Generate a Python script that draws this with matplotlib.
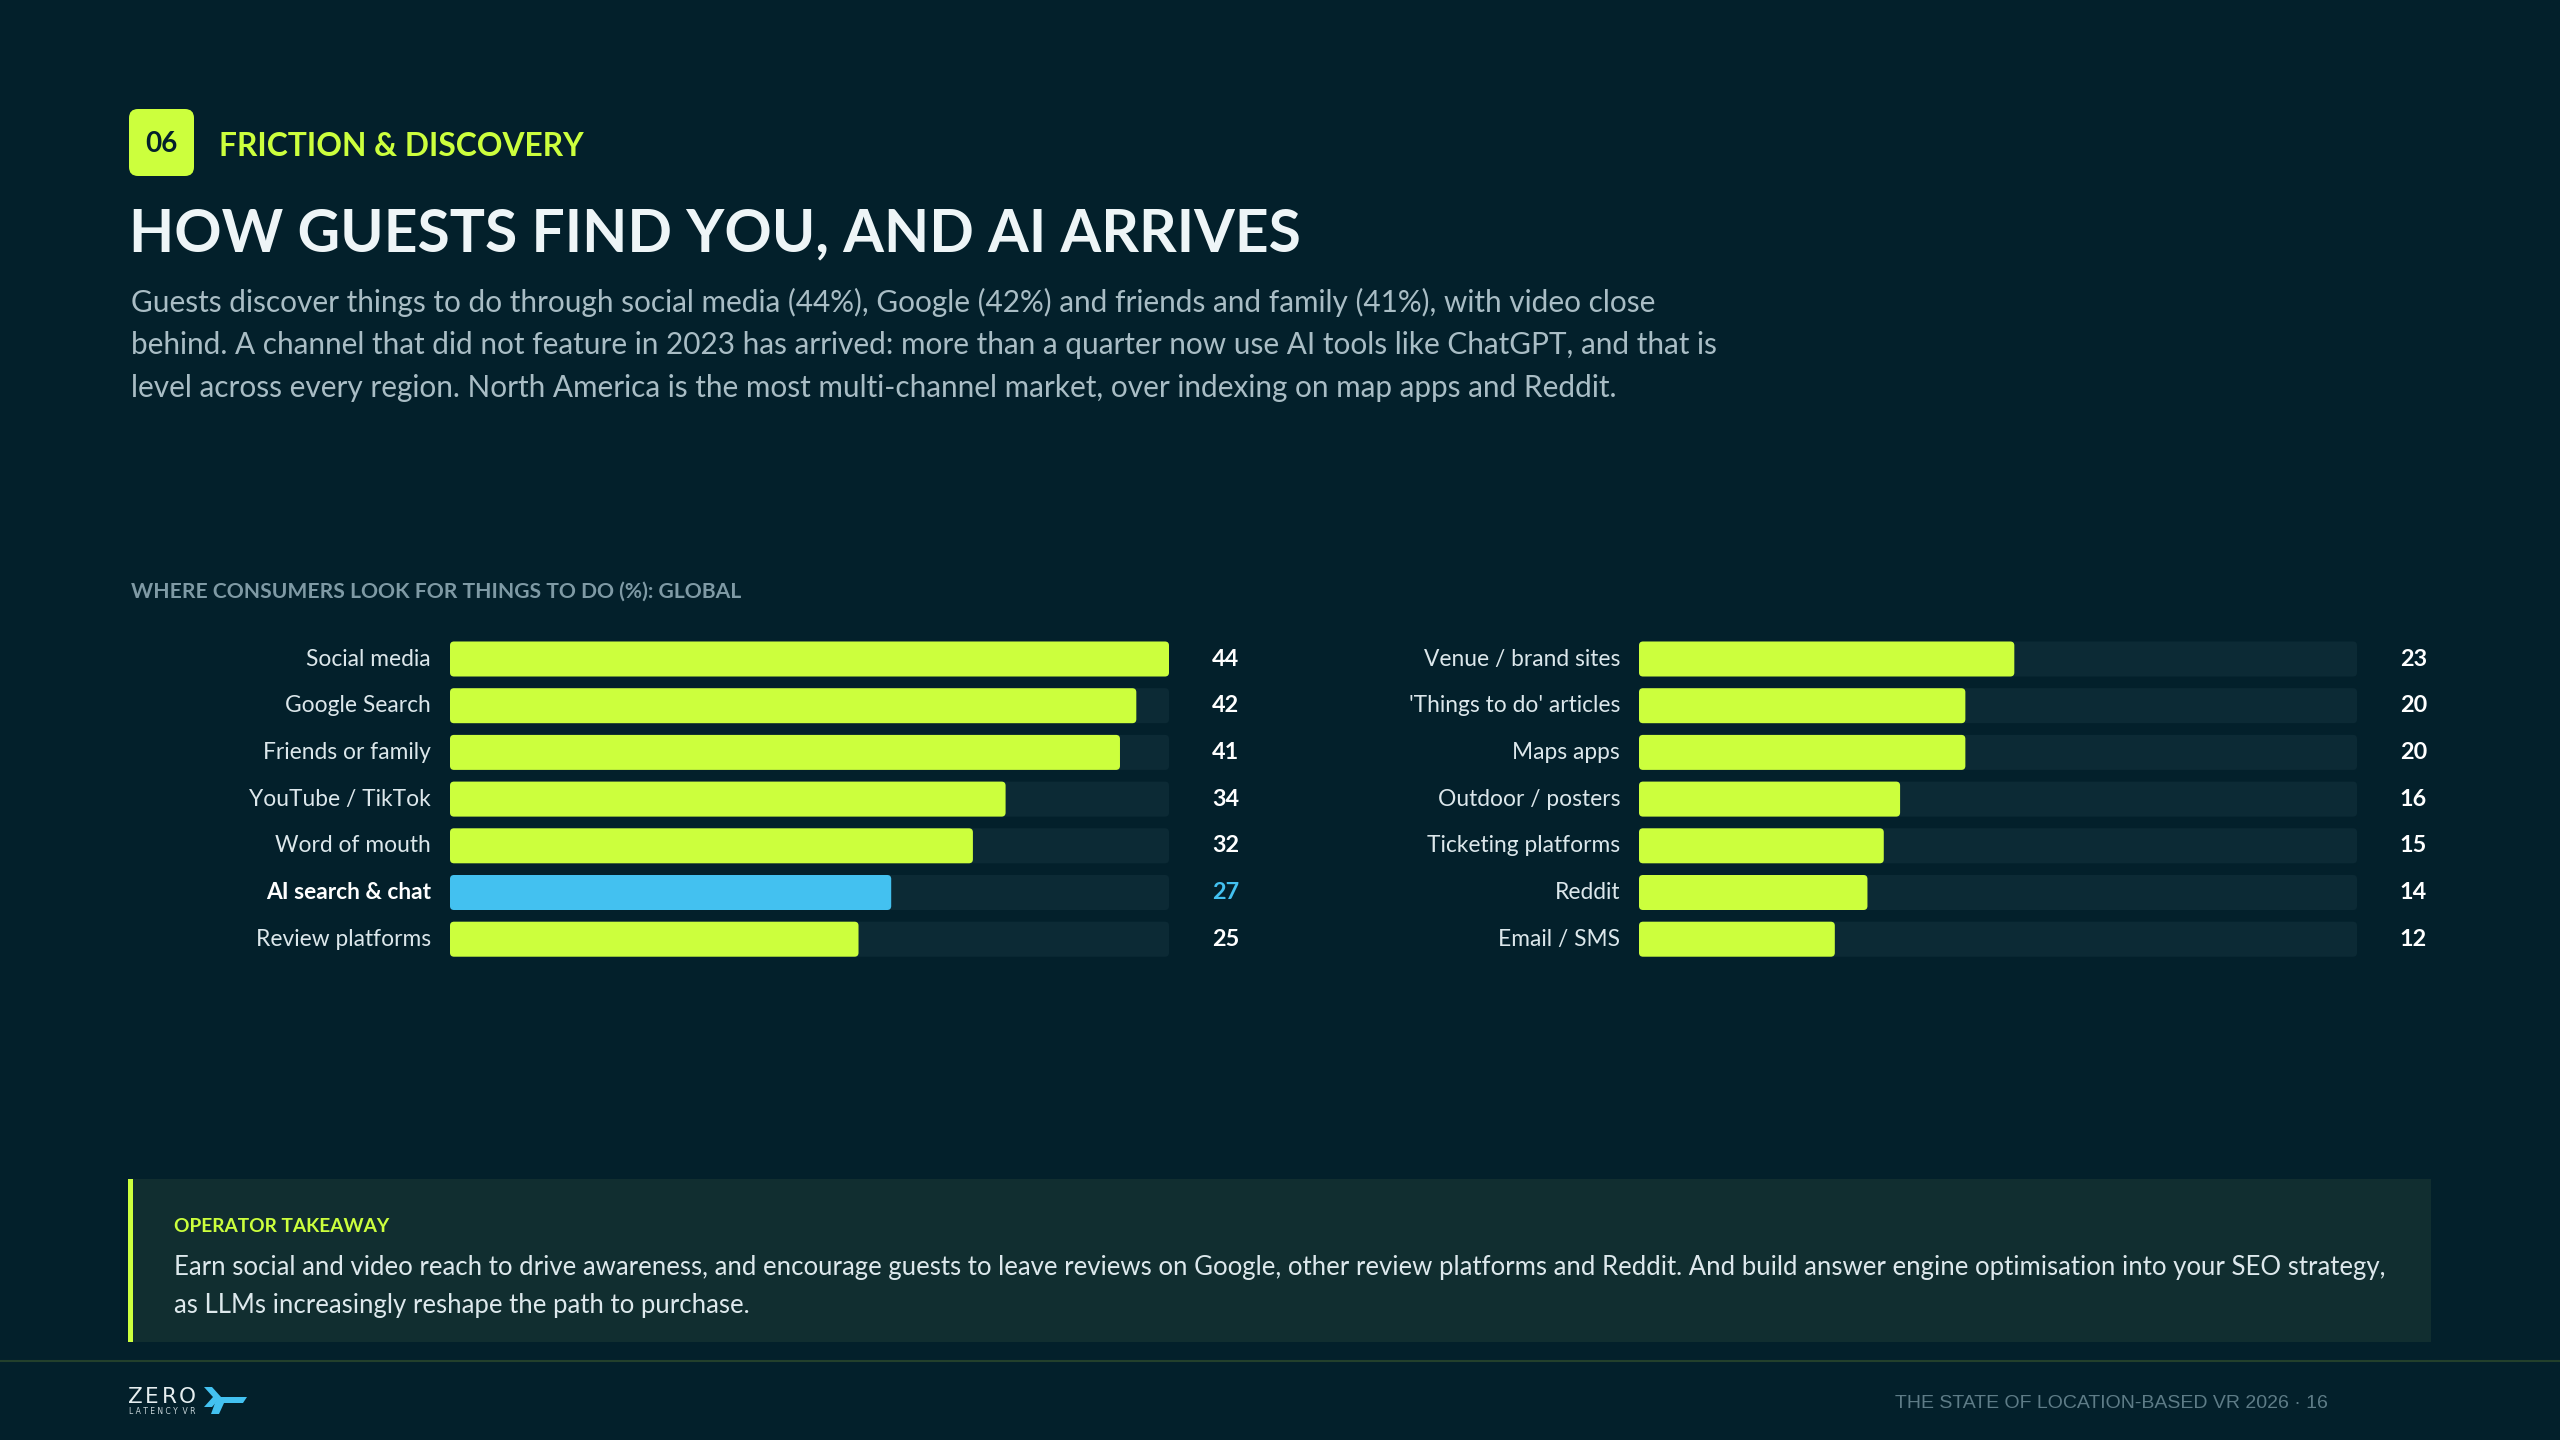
import matplotlib
matplotlib.use("Agg")
import matplotlib.pyplot as plt
from matplotlib.patches import FancyBboxPatch, Rectangle, Polygon

plt.rcParams['font.family'] = ['Lato', 'DejaVu Sans']

# data
left_labels = ["Social media", "Google Search", "Friends or family", "YouTube / TikTok",
               "Word of mouth", "AI search & chat", "Review platforms"]
left_values = [44, 42, 41, 34, 32, 27, 25]
right_labels = ["Venue / brand sites", "'Things to do' articles", "Maps apps", "Outdoor / posters",
                "Ticketing platforms", "Reddit", "Email / SMS"]
right_values = [23, 20, 20, 16, 15, 14, 12]
highlight = "AI search & chat"

title = "HOW GUESTS FIND YOU, AND AI ARRIVES"
section_no = "06"
section = "FRICTION & DISCOVERY"
intro = [
    "Guests discover things to do through social media (44%), Google (42%) and friends and family (41%), with video close",
    "behind. A channel that did not feature in 2023 has arrived: more than a quarter now use AI tools like ChatGPT, and that is",
    "level across every region. North America is the most multi-channel market, over indexing on map apps and Reddit.",
]
chart_title = "WHERE CONSUMERS LOOK FOR THINGS TO DO (%): GLOBAL"
takeaway_head = "OPERATOR TAKEAWAY"
takeaway = [
    "Earn social and video reach to drive awareness, and encourage guests to leave reviews on Google, other review platforms and Reddit. And build answer engine optimisation into your SEO strategy,",
    "as LLMs increasingly reshape the path to purchase.",
]
footer = "THE STATE OF LOCATION-BASED VR 2026 \u00b7 16"

# colours
BG = "#03202b"
TRACK = "#0c2a35"
LIME = "#ccff3d"
BLUE = "#43c1f0"
WHITE = "#eef5f7"
GREY = "#a9bdc5"
SUB = "#7f9aa5"
BOX = "#112e30"

W, H = 2560, 1440
fig = plt.figure(figsize=(25.6, 14.4), dpi=100, facecolor=BG)

# background canvas in pixel coordinates
bg = fig.add_axes([0, 0, 1, 1], zorder=0)
bg.set_xlim(0, W)
bg.set_ylim(H, 0)
bg.axis("off")

# header
bg.add_patch(FancyBboxPatch((129, 109), 65, 67, boxstyle="round,pad=0,rounding_size=9",
                            facecolor=LIME, edgecolor="none"))
bg.text(161.5, 144, section_no, color=BG, fontsize=20, fontweight="bold", ha="center", va="center")
bg.text(219, 146, section, color=LIME, fontsize=22.9, fontweight="bold", ha="left", va="center")
bg.text(129, 234, title, color=WHITE, fontsize=42.2, fontweight="bold", ha="left", va="center")
for i, line in enumerate(intro):
    bg.text(131, 302 + i * 43, line, color=GREY, fontsize=21.4, ha="left", va="center")

bg.text(131, 592, chart_title, color=SUB, fontsize=15.2, fontweight="bold", ha="left", va="center")

# takeaway box
bg.add_patch(Rectangle((129, 1179), 2302, 163, facecolor=BOX, edgecolor="none"))
bg.add_patch(Rectangle((128, 1179), 5, 163, facecolor=LIME, edgecolor="none"))
bg.text(174, 1226, takeaway_head, color=LIME, fontsize=13.8, fontweight="bold", ha="left", va="center")
for i, line in enumerate(takeaway):
    bg.text(174, 1268 + i * 37, line, color="#dde8ec", fontsize=18.5, ha="left", va="center")

# footer
bg.plot([0, W], [1361, 1361], color="#23402c", lw=1.5)
for i, ch in enumerate("ZERO"):
    bg.text(128 + i * 17, 1397, ch, color="#e6eef0", fontsize=15.5, fontfamily="DejaVu Sans",
            ha="left", va="center")
bg.text(129, 1412, "L A T E N C Y  V R", color="#c9d6da", fontsize=5.5, fontfamily="DejaVu Sans",
        ha="left", va="center")
bg.add_patch(Polygon([(204, 1387), (212, 1387), (221, 1397), (212, 1407), (204, 1407), (213, 1397)],
                     closed=True, facecolor=BLUE, edgecolor="none"))
bg.add_patch(Polygon([(219, 1397), (247, 1397), (243, 1403), (215, 1403)],
                     closed=True, facecolor=BLUE, edgecolor="none"))
bg.add_patch(Polygon([(215, 1403), (224, 1403), (219, 1414), (211, 1414)],
                     closed=True, facecolor=BLUE, edgecolor="none"))
bg.text(2328, 1404, footer, color="#5e7c87", fontsize=14, fontfamily="Liberation Sans",
        ha="right", va="center")

scale_max = max(left_values + right_values)
row_px = 46.7
top_px = 659 - row_px / 2
n = len(left_labels)
ax_h = n * row_px


def rounded(ax, bars, radius_px, aspect, ax_w_px):
    # swap rectangles for slightly rounded ones
    r = radius_px * scale_max / ax_w_px
    for b in bars:
        p = FancyBboxPatch((b.get_x(), b.get_y()), b.get_width(), b.get_height(),
                           boxstyle=f"round,pad=0,rounding_size={r}",
                           mutation_aspect=aspect, facecolor=b.get_facecolor(),
                           edgecolor="none", zorder=b.get_zorder())
        b.remove()
        ax.add_patch(p)


def draw_panel(x0, x1, labels, values):
    ax_w_px = x1 - x0
    ax = fig.add_axes([x0 / W, (H - top_px - ax_h) / H, ax_w_px / W, ax_h / H], zorder=2)
    ax.set_facecolor("none")
    ax.set_xlim(0, scale_max)
    ax.set_ylim(n - 0.5, -0.5)
    ax.axis("off")
    ys = list(range(n))
    aspect = (1 / row_px) / (scale_max / ax_w_px)
    hgt = 35 / row_px
    tracks = ax.barh(ys, [scale_max] * n, height=hgt, color=TRACK, zorder=1)
    rounded(ax, tracks, 4, aspect, ax_w_px)
    colors = [BLUE if lab == highlight else LIME for lab in labels]
    bars = ax.barh(ys, values, height=hgt, color=colors, zorder=2)
    rounded(ax, bars, 4, aspect, ax_w_px)
    for y, lab, v in zip(ys, labels, values):
        hi = lab == highlight
        ax.annotate(lab, xy=(0, y), xycoords=("axes fraction", "data"), xytext=(-19, 0),
                    textcoords="offset pixels", ha="right", va="center", fontsize=16.4,
                    color="white" if hi else "#dce7eb", fontweight="bold" if hi else "normal")
        ax.annotate(str(v), xy=(1, y), xycoords=("axes fraction", "data"), xytext=(70, 0),
                    textcoords="offset pixels", ha="right", va="center", fontsize=16.8,
                    color=BLUE if hi else "white", fontweight="bold")
    return ax


draw_panel(450, 1169, left_labels, left_values)
draw_panel(1639, 2357, right_labels, right_values)

fig.savefig("out.png", dpi=100, facecolor=BG)
